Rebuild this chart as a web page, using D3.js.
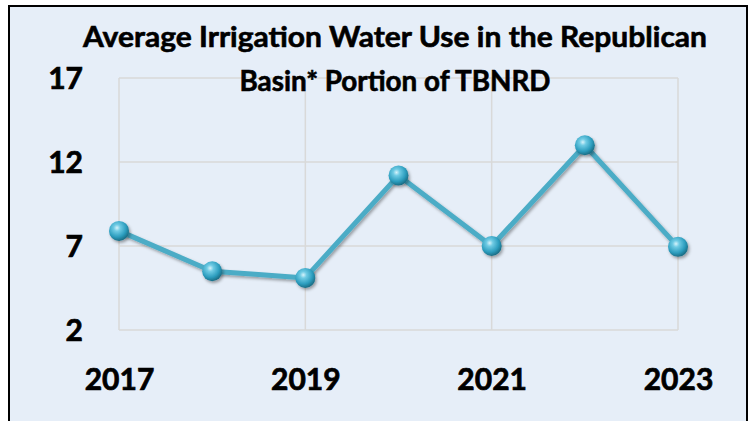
<!DOCTYPE html>
<html><head><meta charset="utf-8">
<script src="https://cdn.jsdelivr.net/npm/d3@7/dist/d3.min.js"></script>
<style>html,body{margin:0;padding:0;background:#fff;overflow:hidden}</style>
</head><body>
<svg id="c" width="751" height="421"></svg>
<script>
const years = [2017, 2018, 2019, 2020, 2021, 2022, 2023];
const values = [7.9, 5.5, 5.1, 11.2, 7.0, 13.0, 6.95];
const yTicks = [2, 7, 12, 17];
const xTicks = [2017, 2019, 2021, 2023];
const titleLines = ["Average Irrigation Water Use in the Republican", "Basin* Portion of TBNRD"];

const svg = d3.select("#c");
const font = "Lato, 'Open Sans', sans-serif";

// frame
svg.append("rect").attr("x", 9).attr("y", 6).attr("width", 738).attr("height", 430)
  .attr("fill", "#E6EEF8").attr("stroke", "#000").attr("stroke-width", 2);

const x = d3.scaleLinear().domain([2017, 2023]).range([119, 678]);
const y = d3.scaleLinear().domain([2, 17]).range([330, 78]);

const defs = svg.append("defs");
const grad = defs.append("radialGradient").attr("id", "ball").attr("cx", "40%").attr("cy", "35%").attr("r", "65%");
grad.append("stop").attr("offset", "0%").attr("stop-color", "#D6F3FB");
grad.append("stop").attr("offset", "25%").attr("stop-color", "#6FCBE4");
grad.append("stop").attr("offset", "70%").attr("stop-color", "#2C9DBE");
grad.append("stop").attr("offset", "100%").attr("stop-color", "#1B6E86");
const sh = defs.append("filter").attr("id", "sh").attr("x", "-50%").attr("y", "-50%").attr("width", "200%").attr("height", "200%");
sh.append("feDropShadow").attr("dx", 1.5).attr("dy", 2).attr("stdDeviation", 1.8).attr("flood-color", "#000").attr("flood-opacity", 0.35);

// grid
const grid = svg.append("g");
grid.selectAll("line.h").data(yTicks).join("line")
  .attr("x1", x(2017)).attr("x2", x(2023)).attr("y1", d => y(d)).attr("y2", d => y(d))
  .attr("stroke", "#D9D9D9").attr("stroke-width", 1.5);
grid.selectAll("line.v").data(xTicks).join("line")
  .attr("y1", y(2)).attr("y2", y(17)).attr("x1", d => x(d)).attr("x2", d => x(d))
  .attr("stroke", "#D9D9D9").attr("stroke-width", 1.5);

// axes labels
const yAxis = d3.axisLeft(y).tickValues(yTicks).tickSize(0).tickPadding(0);
const ga = svg.append("g").attr("transform", "translate(83,0)").call(yAxis);
ga.select(".domain").remove();
ga.selectAll("text").attr("font-family", font).attr("font-weight", "bold").attr("font-size", 30)
  .attr("fill", "#000").attr("stroke", "#000").attr("stroke-width", 0.7).attr("dy", "0.35em");

const xAxis = d3.axisBottom(x).tickValues(xTicks).tickFormat(d3.format("d")).tickSize(0).tickPadding(0);
const gx = svg.append("g").attr("transform", "translate(0,390)").call(xAxis);
gx.select(".domain").remove();
gx.selectAll("text").attr("font-family", font).attr("font-weight", "bold").attr("font-size", 30)
  .attr("fill", "#000").attr("stroke", "#000").attr("stroke-width", 0.7).attr("dy", 0);

// line
const line = d3.line().x((d, i) => x(years[i])).y(d => y(d));
svg.append("path").datum(values).attr("d", line).attr("fill", "none")
  .attr("stroke", "#4BACC6").attr("stroke-width", 5).attr("stroke-linejoin", "round")
  .attr("filter", "url(#sh)");
svg.selectAll("circle.m").data(values).join("circle")
  .attr("cx", (d, i) => x(years[i])).attr("cy", d => y(d)).attr("r", 10)
  .attr("fill", "url(#ball)").attr("filter", "url(#sh)");

// title
const tl = [624, 311];
svg.selectAll("text.t").data(titleLines).join("text")
  .attr("x", 395).attr("y", (d, i) => 47 + i * 44)
  .attr("text-anchor", "middle").attr("font-family", font).attr("font-weight", "bold")
  .attr("font-size", 28).attr("fill", "#000").attr("stroke", "#000").attr("stroke-width", 0.6)
  .attr("textLength", (d, i) => tl[i]).attr("lengthAdjust", "spacingAndGlyphs")
  .text(d => d);
</script>
</body></html>
